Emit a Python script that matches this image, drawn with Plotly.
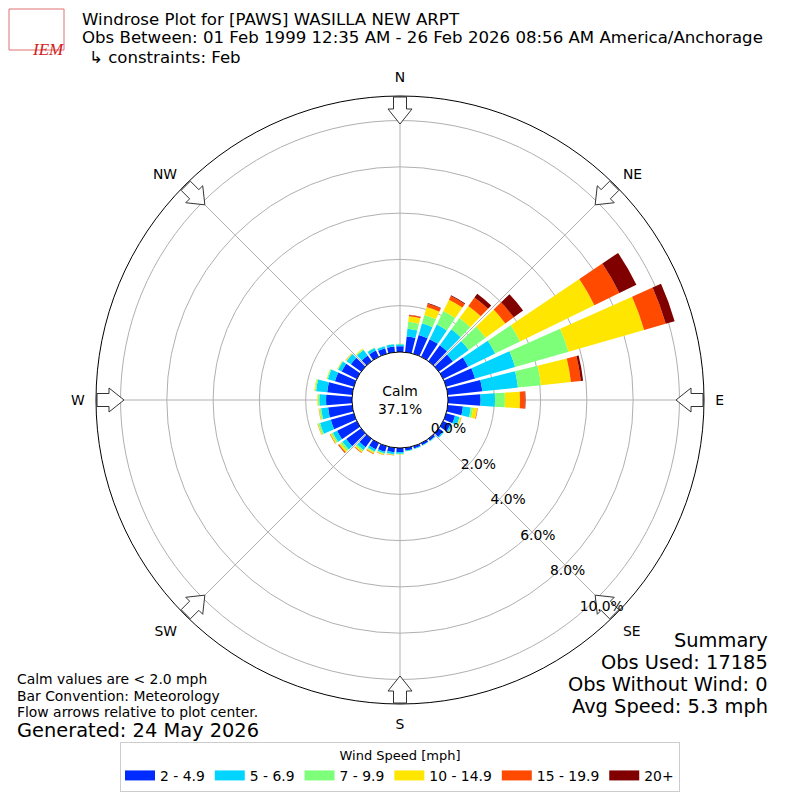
import math
import plotly.graph_objects as go

# direction bins (degrees, meteorological: where the wind blows from)
directions = list(range(0, 360, 10))

speed_labels = ["2 - 4.9", "5 - 6.9", "7 - 9.9", "10 - 14.9", "15 - 19.9", "20+"]
speed_colors = ["#002bff", "#00d4ff", "#7dff7a", "#ffe600", "#ff4a00", "#800000"]

# percent of observations in each direction bin, one list per speed class
pct_2_5 = [0.25, 0.68, 0.85, 0.85, 0.85, 0.75, 1.20, 1.30, 1.50, 1.41, 0.66, 0.40,
           0.35, 0.22, 0.10, 0.10, 0.10, 0.12, 0.18, 0.20, 0.25, 0.30, 0.45, 0.80,
           0.95, 1.04, 1.05, 1.12, 1.09, 0.85, 0.73, 0.55, 0.30, 0.30, 0.25, 0.25]
pct_5_7 = [0.08, 0.34, 0.52, 0.70, 0.85, 0.85, 1.30, 1.80, 1.55, 0.62, 0.34, 0.20,
           0.07, 0.05, 0.03, 0.02, 0.03, 0.03, 0.07, 0.08, 0.07, 0.10, 0.15, 0.20,
           0.20, 0.48, 0.30, 0.29, 0.48, 0.32, 0.17, 0.23, 0.30, 0.13, 0.09, 0.10]
pct_7_10 = [0.02, 0.30, 0.38, 0.65, 0.60, 0.90, 1.20, 2.40, 1.00, 0.43, 0.10, 0.04,
            0.02, 0.01, 0.01, 0.01, 0.01, 0.01, 0.02, 0.03, 0.04, 0.05, 0.07, 0.10,
            0.08, 0.08, 0.07, 0.06, 0.05, 0.04, 0.03, 0.02, 0.04, 0.02, 0.01, 0.01]
pct_10_15 = [0.01, 0.24, 0.35, 0.55, 0.65, 1.05, 3.57, 3.40, 1.30, 0.65, 0.18, 0.04,
             0.01, 0.00, 0.00, 0.00, 0.00, 0.00, 0.01, 0.02, 0.04, 0.05, 0.06, 0.08,
             0.05, 0.03, 0.03, 0.03, 0.03, 0.02, 0.02, 0.03, 0.03, 0.00, 0.00, 0.00]
pct_15_20 = [0.00, 0.06, 0.15, 0.17, 0.45, 0.45, 1.20, 0.97, 0.43, 0.22, 0.02, 0.01,
             0.00, 0.00, 0.00, 0.00, 0.00, 0.00, 0.00, 0.01, 0.01, 0.03, 0.03, 0.04,
             0.02, 0.01, 0.01, 0.00, 0.00, 0.00, 0.00, 0.01, 0.00, 0.00, 0.00, 0.00]
pct_20_up = [0.00, 0.01, 0.03, 0.04, 0.20, 0.50, 0.82, 0.40, 0.10, 0.02, 0.00, 0.00,
             0.00, 0.00, 0.00, 0.00, 0.00, 0.00, 0.00, 0.00, 0.00, 0.00, 0.00, 0.01,
             0.00, 0.00, 0.00, 0.00, 0.00, 0.00, 0.00, 0.00, 0.00, 0.00, 0.00, 0.00]

radial_ticks = [0, 2, 4, 6, 8, 10]
radial_label_angle = 140
compass_ticks = [0, 45, 90, 135, 180, 225, 270, 315]
compass_labels = ["N", "NE", "E", "SE", "S", "SW", "W", "NW"]

calm_pct = 37.1
summary_lines = ["Summary", "Obs Used: 17185", "Obs Without Wind: 0", "Avg Speed: 5.3 mph"]
note_lines = ["Calm values are < 2.0 mph", "Bar Convention: Meteorology",
              "Flow arrows relative to plot center."]

R_MAX = 11.06
HOLE = 0.158
OUTER_PX = 304.0
HOLE_PX = OUTER_PX * HOLE
PX_PER_PCT = (OUTER_PX - HOLE_PX) / R_MAX

FONT = "DejaVu Sans"
W = 800
OFF = 8  # page body margin, the figure is drawn 8px in from the corner


def px(x):
    return (x - OFF) / W


def py(y):
    return 1 - (y - OFF) / W


fig = go.Figure()

series = [pct_2_5, pct_5_7, pct_7_10, pct_10_15, pct_15_20, pct_20_up]
for vals, name, col in zip(series, speed_labels, speed_colors):
    fig.add_trace(go.Barpolar(
        r=vals, theta=directions, width=8, name=name, legendgroup=name,
        marker=dict(color=col, line=dict(width=0)), showlegend=False,
    ))
    # wide legend swatch like the original
    fig.add_trace(go.Scatterpolar(
        r=[0], theta=[0], mode="lines", name=name, legendgroup=name,
        line=dict(color=col, width=10), hoverinfo="skip",
    ))


# hollow block arrows pointing to the centre, drawn in polar coords
def arrow_points(direction):
    # (along from tip in px, sideways px)
    outline = [(0, 0), (15, 12), (15, 6.5), (27, 6.5), (27, -6.5), (15, -6.5), (15, -12), (0, 0)]
    tip_px = 276.0
    rs, ts = [], []
    for s, p in outline:
        big_r = tip_px + s
        rpx = math.hypot(big_r, p)
        rs.append((rpx - HOLE_PX) / PX_PER_PCT)
        ts.append(direction + math.degrees(math.atan2(p, big_r)))
    return rs, ts


for d in compass_ticks:
    ar, at = arrow_points(d)
    fig.add_trace(go.Scatterpolar(
        r=ar, theta=at, mode="lines", fill="toself", fillcolor="white",
        line=dict(color="#333333", width=1), showlegend=False, hoverinfo="skip",
        cliponaxis=False,
    ))

# radial labels, left/bottom anchored on the 140 degree line like matplotlib
fig.add_trace(go.Scatterpolar(
    r=radial_ticks, theta=[radial_label_angle] * len(radial_ticks), mode="text",
    text=["%.1f%%" % t for t in radial_ticks], textposition="top right",
    textfont=dict(size=13.9, color="black"), showlegend=False, hoverinfo="skip",
    cliponaxis=False,
))

fig.update_layout(
    width=W, height=W,
    margin=dict(l=0, r=0, t=0, b=0),
    paper_bgcolor="white",
    font=dict(family=FONT, size=13.9, color="black"),
    polar=dict(
        domain=dict(x=[px(96), px(704)], y=[py(704), py(96)]),
        hole=HOLE,
        bgcolor="white",
        barmode="stack",
        radialaxis=dict(
            range=[0, R_MAX], tickvals=radial_ticks, showticklabels=False,
            angle=-45, showline=False, ticks="",
            gridcolor="#b0b0b0", gridwidth=1,
        ),
        angularaxis=dict(
            rotation=90, direction="clockwise",
            tickvals=compass_ticks, ticktext=compass_labels,
            ticks="outside", ticklen=8, tickcolor="rgba(0,0,0,0)",
            showline=True, linecolor="black", linewidth=1,
            gridcolor="#b0b0b0", gridwidth=1,
            tickfont=dict(size=13.9, color="black"),
        ),
    ),
    legend=dict(
        orientation="h", x=px(400), xanchor="center", y=py(742), yanchor="top",
        title=dict(text="Wind Speed [mph]", side="top center", font=dict(size=13)),
        bordercolor="#cccccc", borderwidth=1, itemwidth=30,
        font=dict(size=13.9),
    ),
)

# titles
title_lines = [
    "Windrose Plot for [PAWS] WASILLA NEW ARPT",
    "Obs Between: 01 Feb 1999 12:35 AM - 26 Feb 2026 08:56 AM America/Anchorage",
]
for i, txt in enumerate(title_lines):
    fig.add_annotation(text=txt, xref="paper", yref="paper", x=px(80), y=py(19 + 19 * i),
                       xanchor="left", yanchor="middle", showarrow=False, font=dict(size=16.6))
fig.add_annotation(text="↳ constraints: Feb", xref="paper", yref="paper", x=px(87), y=py(57),
                   xanchor="left", yanchor="middle", showarrow=False, font=dict(size=16.6))

# logo stand-in
fig.add_shape(type="rect", xref="paper", yref="paper", x0=px(9), x1=px(64), y0=py(50), y1=py(9),
              line=dict(color="#e07070", width=1))
fig.add_annotation(text="<i>IEM</i>", xref="paper", yref="paper", x=px(30), y=py(38),
                   showarrow=False, font=dict(family="Liberation Serif", size=17, color="#d02020"))

# calm in the middle
fig.add_annotation(text="Calm<br>%.1f%%" % calm_pct, xref="paper", yref="paper", x=px(400), y=py(400),
                   showarrow=False, font=dict(size=13.9))

# summary on the right
for i, txt in enumerate(summary_lines):
    fig.add_annotation(text=txt, xref="paper", yref="paper", x=px(770), y=py(640 + 22 * i),
                       xanchor="right", yanchor="middle", showarrow=False, font=dict(size=19.4))

# notes bottom left
for i, txt in enumerate(note_lines):
    fig.add_annotation(text=txt, xref="paper", yref="paper", x=px(15), y=py(679 + 16.5 * i),
                       xanchor="left", yanchor="middle", showarrow=False, font=dict(size=13.9))
fig.add_annotation(text="Generated: 24 May 2026", xref="paper", yref="paper", x=px(15), y=py(730),
                   xanchor="left", yanchor="middle", showarrow=False, font=dict(size=19.4))

fig.write_html("out.html")
